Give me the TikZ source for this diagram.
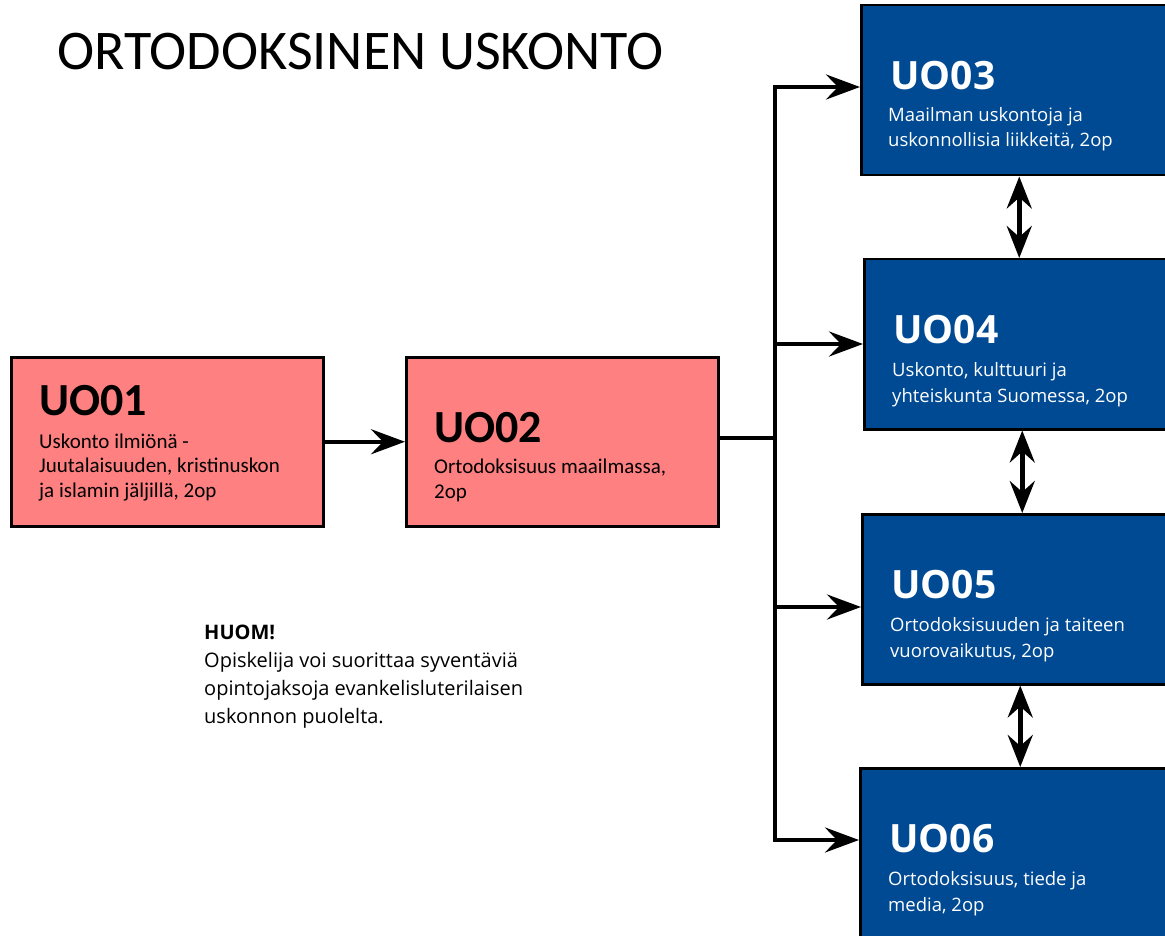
\documentclass[tikz,border=0pt]{standalone}
\usepackage{fontspec}
\setmainfont{Carlito}
\newfontfamily\segoe{Open Sans}
\usetikzlibrary{arrows.meta}
\definecolor{pinkfill}{RGB}{255,128,128}
\definecolor{bluefill}{RGB}{0,74,148}
\begin{document}
\begin{tikzpicture}[x=1pt,y=-1pt,
  pinkbox/.style={draw,line width=2.5pt,fill=pinkfill,anchor=north west,minimum width=312pt,minimum height=169pt,inner sep=0pt},
  bluebox/.style={draw,line width=2.5pt,fill=bluefill,anchor=north west,minimum width=316pt,minimum height=170pt,inner sep=0pt},
  pinkcode/.style={anchor=base west,inner sep=0pt,font=\fontsize{46}{46}\selectfont\bfseries},
  pinktext/.style={anchor=base west,inner sep=0pt,align=left,font=\fontsize{21}{24.5}\selectfont},
  bluecode/.style={anchor=base west,inner sep=0pt,text=white,font=\segoe\fontsize{39}{39}\selectfont\bfseries},
  bluetext/.style={anchor=base west,inner sep=0pt,align=left,text=white,font=\segoe\fontsize{18.5}{25.5}\selectfont},
  conn/.style={line width=4.5pt,-{Stealth[length=34pt,width=25pt,inset=12pt]}},
  dbl/.style={line width=4.5pt,{Stealth[length=32pt,width=25pt,inset=11pt]}-{Stealth[length=32pt,width=25pt,inset=11pt]}}]
\useasboundingbox (0,0) rectangle (1165,936);
\node[anchor=base west,inner sep=0pt,font=\fontsize{56}{60}\selectfont] (title) at (57,70) {ORTODOKSINEN USKONTO};
% kurssit
\node[pinkbox] (uo1) at (10,356) {};
\node[pinkbox] (uo2) at (405,356) {};
\node[bluebox] (uo3) at (860,4) {};
\node[bluebox] (uo4) at (863,258) {};
\node[bluebox] (uo5) at (861,513) {};
\node[bluebox] (uo6) at (859,767) {};
\node[pinkcode] (uo1code) at (39,415) {UO01};
\node[pinktext] (uo1text) at (39,497) {Uskonto ilmiönä -\\Juutalaisuuden, kristinuskon\\ja islamin jäljillä, 2op};
\node[pinkcode] (uo2code) at (434,442) {UO02};
\node[pinktext] (uo2text) at (434,498) {Ortodoksisuus maailmassa,\\2op};
\node[bluecode] (uo3code) at (890,90) {UO03};
\node[bluetext] (uo3text) at (888,147) {Maailman uskontoja ja\\uskonnollisia liikkeitä, 2op};
\node[bluecode] (uo4code) at (893,343) {UO04};
\node[bluetext] (uo4text) at (892,402) {Uskonto, kulttuuri ja\\yhteiskunta Suomessa, 2op};
\node[bluecode] (uo5code) at (891,598) {UO05};
\node[bluetext] (uo5text) at (890,657) {Ortodoksisuuden ja taiteen\\vuorovaikutus, 2op};
\node[bluecode] (uo6code) at (889,852) {UO06};
\node[bluetext] (uo6text) at (888,911) {Ortodoksisuus, tiede ja\\media, 2op};
\node[anchor=base west,inner sep=0pt,align=left,font=\segoe\fontsize{20}{28}\selectfont] (note) at (204,723) {\textbf{HUOM!}\\Opiskelija voi suorittaa syventäviä\\opintojaksoja evankelisluterilaisen\\uskonnon puolelta.};
% yhteydet
\coordinate (split) at (775,438);
\coordinate (j3) at (775,87);
\coordinate (j4) at (775,344);
\coordinate (j5) at (775,607);
\coordinate (j6) at (775,840);
\draw[conn] (uo1) -- (uo2);
\draw[line width=4.5pt] (uo2.east |- split) -- (split);
\draw[conn] (split) -- (j3) -- (j3 -| uo3.west);
\draw[conn] (split) -- (j6) -- (j6 -| uo6.west);
\draw[conn] (j4) -- (j4 -| uo4.west);
\draw[conn] (j5) -- (j5 -| uo5.west);
\draw[dbl] (uo3.south) -- (uo3.south |- uo4.north);
\draw[dbl] (uo4.south) -- (uo4.south |- uo5.north);
\draw[dbl] (uo5.south) -- (uo5.south |- uo6.north);
\end{tikzpicture}
\end{document}
